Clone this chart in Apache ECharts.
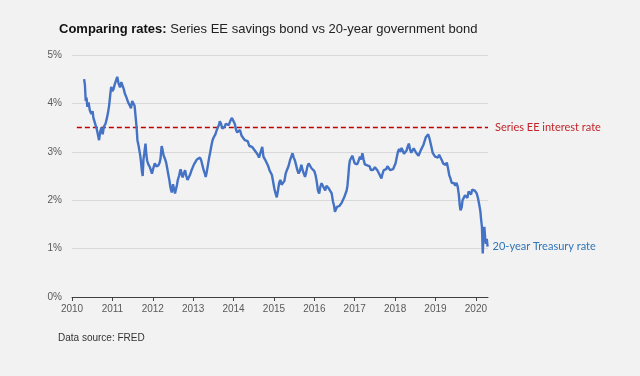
<!DOCTYPE html>
<html>
<head>
<meta charset="utf-8">
<script src="https://cdn.jsdelivr.net/npm/echarts@6/dist/echarts.min.js"></script>
<style>
  html, body { margin: 0; padding: 0; background: #f2f2f2; }
  #chart { width: 640px; height: 376px; }
</style>
</head>
<body>
<div id="chart"></div>
<script>
// 20-year Treasury rate (decimal year, percent)
var treasuryYears = [
  2010.30, 2010.32, 2010.34, 2010.36, 2010.38, 2010.41, 2010.44, 2010.48, 2010.51, 2010.53,
  2010.57, 2010.61, 2010.64, 2010.67, 2010.70, 2010.73, 2010.76, 2010.79, 2010.83, 2010.86,
  2010.89, 2010.92, 2010.95, 2010.97, 2011.00, 2011.03, 2011.06, 2011.09, 2011.12, 2011.15,
  2011.19, 2011.22, 2011.25, 2011.28, 2011.31, 2011.35, 2011.39, 2011.43, 2011.46, 2011.49,
  2011.52, 2011.55, 2011.58, 2011.60, 2011.62, 2011.65, 2011.67, 2011.69, 2011.71, 2011.73,
  2011.75, 2011.77, 2011.79, 2011.82, 2011.84, 2011.86, 2011.89, 2011.93, 2011.96, 2011.98,
  2012.02, 2012.05, 2012.09, 2012.14, 2012.17, 2012.19, 2012.22, 2012.24, 2012.27, 2012.30,
  2012.33, 2012.36, 2012.38, 2012.41, 2012.43, 2012.45, 2012.47, 2012.50, 2012.53, 2012.55,
  2012.57, 2012.60, 2012.62, 2012.65, 2012.67, 2012.69, 2012.72, 2012.74, 2012.77, 2012.80,
  2012.83, 2012.86, 2012.88, 2012.92, 2012.96, 2012.99, 2013.02, 2013.06, 2013.09, 2013.13,
  2013.17, 2013.20, 2013.23, 2013.26, 2013.29, 2013.31, 2013.34, 2013.37, 2013.40, 2013.42,
  2013.45, 2013.48, 2013.51, 2013.55, 2013.58, 2013.61, 2013.64, 2013.66, 2013.69, 2013.72,
  2013.75, 2013.78, 2013.81, 2013.84, 2013.88, 2013.92, 2013.96, 2013.99, 2014.03, 2014.06,
  2014.09, 2014.13, 2014.16, 2014.20, 2014.24, 2014.28, 2014.31, 2014.35, 2014.39, 2014.42,
  2014.46, 2014.50, 2014.53, 2014.56, 2014.60, 2014.63, 2014.65, 2014.68, 2014.71, 2014.74,
  2014.78, 2014.82, 2014.86, 2014.89, 2014.92, 2014.95, 2014.98, 2015.01, 2015.04, 2015.07,
  2015.10, 2015.13, 2015.16, 2015.19, 2015.23, 2015.26, 2015.29, 2015.32, 2015.36, 2015.40,
  2015.43, 2015.46, 2015.49, 2015.52, 2015.55, 2015.58, 2015.61, 2015.64, 2015.68, 2015.71,
  2015.74, 2015.77, 2015.80, 2015.83, 2015.86, 2015.89, 2015.93, 2015.96, 2016.00, 2016.03,
  2016.06, 2016.09, 2016.12, 2016.15, 2016.18, 2016.21, 2016.24, 2016.27, 2016.30, 2016.33,
  2016.36, 2016.39, 2016.43, 2016.46, 2016.49, 2016.51, 2016.53, 2016.56, 2016.59, 2016.62,
  2016.65, 2016.68, 2016.71, 2016.74, 2016.77, 2016.80, 2016.82, 2016.84, 2016.86, 2016.88,
  2016.91, 2016.94, 2016.97, 2017.00, 2017.03, 2017.06, 2017.09, 2017.13, 2017.16, 2017.19,
  2017.22, 2017.25, 2017.28, 2017.31, 2017.34, 2017.37, 2017.40, 2017.43, 2017.46, 2017.50,
  2017.53, 2017.56, 2017.59, 2017.62, 2017.66, 2017.69, 2017.72, 2017.75, 2017.78, 2017.81,
  2017.84, 2017.88, 2017.92, 2017.95, 2017.98, 2018.01, 2018.04, 2018.07, 2018.10, 2018.13,
  2018.16, 2018.19, 2018.22, 2018.25, 2018.28, 2018.31, 2018.34, 2018.37, 2018.40, 2018.43,
  2018.46, 2018.49, 2018.52, 2018.55, 2018.58, 2018.61, 2018.64, 2018.67, 2018.70, 2018.73,
  2018.76, 2018.79, 2018.82, 2018.85, 2018.88, 2018.90, 2018.93, 2018.96, 2018.99, 2019.02,
  2019.06, 2019.09, 2019.12, 2019.16, 2019.19, 2019.22, 2019.25, 2019.28, 2019.31, 2019.34,
  2019.37, 2019.40, 2019.43, 2019.46, 2019.49, 2019.52, 2019.55, 2019.58, 2019.60, 2019.62,
  2019.65, 2019.67, 2019.70, 2019.73, 2019.76, 2019.79, 2019.82, 2019.85, 2019.88, 2019.91,
  2019.94, 2019.97, 2020.00, 2020.02, 2020.05, 2020.08, 2020.11, 2020.13, 2020.15, 2020.17,
  2020.19, 2020.21, 2020.23, 2020.25, 2020.27, 2020.29
];
var treasuryRates = [
  4.50, 4.38, 4.05, 4.12, 3.93, 4.02, 3.86, 3.78, 3.84, 3.70,
  3.72, 3.48, 3.36, 3.24, 3.42, 3.50, 3.36, 3.52, 3.58, 3.68,
  3.80, 3.96, 4.20, 4.34, 4.25, 4.30, 4.40, 4.36, 4.55, 4.42,
  4.33, 4.44, 4.40, 4.30, 4.20, 4.12, 4.02, 3.96, 3.90, 4.05,
  4.08, 3.95, 3.92, 3.50, 3.24, 3.12, 3.02, 2.92, 2.78, 2.60,
  2.50, 2.85, 2.97, 3.17, 2.95, 2.82, 2.74, 2.68, 2.60, 2.55,
  2.68, 2.76, 2.70, 2.72, 2.78, 2.85, 3.12, 3.05, 2.92, 2.86,
  2.78, 2.65, 2.55, 2.42, 2.30, 2.22, 2.16, 2.33, 2.22, 2.14,
  2.18, 2.32, 2.42, 2.50, 2.58, 2.64, 2.52, 2.47, 2.56, 2.62,
  2.50, 2.42, 2.45, 2.52, 2.62, 2.66, 2.74, 2.78, 2.84, 2.80,
  2.88, 2.82, 2.72, 2.62, 2.55, 2.48, 2.60, 2.75, 2.90, 2.98,
  3.12, 3.24, 3.30, 3.36, 3.44, 3.50, 3.56, 3.63, 3.58, 3.48,
  3.44, 3.52, 3.58, 3.60, 3.55, 3.64, 3.70, 3.66, 3.58, 3.46,
  3.40, 3.38, 3.45, 3.33, 3.30, 3.24, 3.20, 3.22, 3.12, 3.16,
  3.10, 3.08, 3.02, 2.98, 2.94, 2.88, 2.92, 3.02, 3.10, 2.90,
  2.84, 2.80, 2.70, 2.62, 2.58, 2.52, 2.38, 2.24, 2.14, 2.06,
  2.20, 2.36, 2.42, 2.32, 2.28, 2.40, 2.55, 2.62, 2.70, 2.83,
  2.90, 2.97, 2.88, 2.82, 2.72, 2.62, 2.55, 2.60, 2.73, 2.62,
  2.55, 2.48, 2.58, 2.70, 2.76, 2.72, 2.66, 2.68, 2.60, 2.52,
  2.38, 2.20, 2.14, 2.28, 2.35, 2.30, 2.26, 2.20, 2.30, 2.31,
  2.24, 2.20, 2.14, 1.98, 1.88, 1.76, 1.80, 1.86, 1.90, 1.88,
  1.90, 1.95, 1.98, 2.06, 2.10, 2.20, 2.30, 2.48, 2.70, 2.82,
  2.86, 2.92, 2.88, 2.76, 2.80, 2.74, 2.80, 2.90, 2.84, 2.97,
  2.84, 2.74, 2.78, 2.72, 2.76, 2.70, 2.62, 2.58, 2.63, 2.68,
  2.66, 2.62, 2.58, 2.52, 2.45, 2.55, 2.62, 2.66, 2.64, 2.70,
  2.68, 2.62, 2.58, 2.64, 2.70, 2.76, 2.88, 3.00, 3.06, 3.00,
  3.08, 3.02, 2.96, 2.92, 3.02, 3.10, 3.17, 3.05, 2.98, 3.02,
  3.07, 3.05, 2.98, 2.94, 2.92, 2.98, 3.04, 3.08, 3.14, 3.22,
  3.30, 3.34, 3.36, 3.28, 3.24, 3.10, 2.98, 2.96, 2.90, 2.92,
  2.88, 2.94, 2.92, 2.82, 2.76, 2.80, 2.73, 2.78, 2.66, 2.52,
  2.45, 2.36, 2.40, 2.35, 2.30, 2.36, 2.28, 2.10, 1.90, 1.79,
  1.86, 2.00, 1.96, 2.10, 2.14, 2.05, 2.18, 2.16, 2.12, 2.22,
  2.24, 2.20, 2.24, 2.14, 2.05, 1.92, 1.78, 1.60, 1.45, 0.90,
  1.30, 1.45, 1.22, 1.10, 1.20, 1.04
];

// Series EE rate (flat reference line)
var eeYears = [2010.12, 2020.30];
var eeRates = [3.5, 3.5];

var yearTicks = [2010, 2011, 2012, 2013, 2014, 2015, 2016, 2017, 2018, 2019, 2020];
var pctTicks = [0, 1, 2, 3, 4, 5];

var sans = "'Liberation Sans', Arial, sans-serif";
var labelFont = "Lato, 'Open Sans', sans-serif";

function pairs(xs, ys) {
  var out = [];
  for (var i = 0; i < xs.length; i++) out.push([xs[i], ys[i]]);
  return out;
}

var myChart = echarts.init(document.getElementById("chart"));
var option = {
  animation: false,
  backgroundColor: "#f2f2f2",
  title: [
    {
      text: "{b|Comparing rates:}{n| Series EE savings bond vs 20-year government bond}",
      left: 59,
      top: 23,
      padding: 0,
      textStyle: {
        fontWeight: "normal",
        rich: {
          b: { fontFamily: sans, fontSize: 13, fontWeight: "bold", color: "#111" },
          n: { fontFamily: sans, fontSize: 13, fontWeight: "normal", color: "#222" },
        },
      },
    },
    {
      text: "Data source: FRED",
      left: 58,
      top: 333,
      padding: 0,
      textStyle: { fontFamily: sans, fontSize: 10, fontWeight: "normal", color: "#333" },
    },
  ],
  grid: { left: 72, right: 152, top: 55, bottom: 79 },
  xAxis: {
    type: "value",
    min: 2010,
    max: 2020.3,
    interval: 1,
    axisLine: { lineStyle: { color: "#404040", width: 1 } },
    axisTick: { show: true, length: 4, customValues: yearTicks, lineStyle: { color: "#404040" } },
    axisLabel: {
      customValues: yearTicks,
      margin: 7,
      color: "#595959",
      fontFamily: sans,
      fontSize: 10,
      formatter: function (v) { return String(Math.round(v)); },
    },
    splitLine: { show: false },
  },
  yAxis: {
    type: "value",
    min: 0,
    max: 5,
    interval: 1,
    axisLine: { show: false },
    axisTick: { show: false },
    axisLabel: {
      customValues: pctTicks,
      margin: 10,
      color: "#595959",
      fontFamily: sans,
      fontSize: 10,
      formatter: "{value}%",
    },
    splitLine: { show: true, lineStyle: { color: "#d9d9d9", width: 1 } },
  },
  series: [
    {
      name: "Series EE interest rate",
      type: "line",
      data: pairs(eeYears, eeRates),
      showSymbol: false,
      silent: true,
      lineStyle: { color: "#c00000", width: 1.5, type: [5, 3] },
      endLabel: {
        show: true,
        formatter: "Series EE interest rate",
        distance: 7,
        color: "#c0262b",
        fontFamily: labelFont,
        fontSize: 11,
      },
    },
    {
      name: "20-year Treasury rate",
      type: "line",
      data: pairs(treasuryYears, treasuryRates),
      showSymbol: false,
      lineStyle: { color: "#4472c4", width: 2.4 },
      endLabel: {
        show: true,
        formatter: "20-year Treasury rate",
        distance: 5,
        color: "#2e75b6",
        fontFamily: labelFont,
        fontSize: 11,
      },
    },
  ],
};

option && myChart.setOption(option);
</script>
</body>
</html>
